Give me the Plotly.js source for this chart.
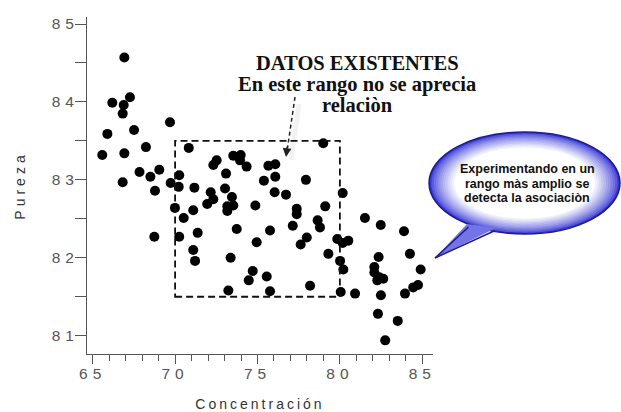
<!DOCTYPE html>
<html><head><meta charset="utf-8">
<script src="https://cdn.plot.ly/plotly-3.0.1.min.js"></script>
<style>
body{margin:0;background:#fff}
#chart{width:621px;height:412px}
.xtitle{letter-spacing:3px}
.ytitle{letter-spacing:4px}
.xtick text,.ytick text{letter-spacing:5px}
</style></head><body><div id="chart"></div>
<script>
// Concentración (x) and Pureza (y) for each observation
const conc = [66.92,67.26,66.19,66.88,66.82,69.69,65.89,67.51,68.23,65.58,
  66.92,67.84,69.04,66.82,68.50,70.25,69.73,70.22,68.78,69.99,
  70.52,68.74,70.25,70.83,73.53,73.98,72.52,72.32,73.94,74.34,
  73.09,71.17,73.03,72.16,73.45,72.32,71.95,73.53,73.17,73.17,
  74.87,71.10,73.74,71.37,74.95,71.10,71.21,73.37,74.71,74.47,
  73.23,78.99,75.66,76.08,76.08,75.39,77.94,76.04,76.73,80.17,
  77.38,77.38,79.11,78.65,78.79,77.14,75.76,77.99,77.62,79.84,
  80.17,80.51,79.30,80.01,80.21,75.56,75.76,78.19,80.05,81.52,
  82.48,83.89,82.35,84.25,82.09,82.09,84.90,82.39,82.63,82.27,
  84.45,84.74,83.95,82.49,80.92,82.31,83.51,82.75];
const pureza = [84.57,84.06,83.99,83.96,83.85,83.74,83.59,83.64,83.42,83.32,
  83.34,83.10,83.13,82.97,83.04,83.06,82.96,82.91,82.86,82.64,
  82.51,82.27,82.27,83.41,83.31,83.32,83.25,83.19,83.25,83.17,
  83.08,82.90,82.89,82.84,82.78,82.75,82.69,82.67,82.66,82.60,
  82.67,82.61,82.37,82.32,82.20,82.10,81.96,82.00,81.83,81.71,
  81.58,83.47,83.18,83.20,83.04,82.99,83.00,82.84,82.81,82.83,
  82.63,82.56,82.66,82.48,82.39,82.41,82.35,82.26,82.17,82.24,
  82.19,82.22,82.05,81.96,81.85,81.76,81.57,81.64,81.56,82.51,
  82.42,82.34,82.01,82.05,81.88,81.81,81.85,81.75,81.73,81.71,
  81.62,81.65,81.54,81.52,81.54,81.28,81.19,80.94];
const xTicks = [65,70,75,80,85];
const yTicks = [81,82,83,84,85];
const boxConc = [70,80];
const boxPureza = [81.5,83.5];
const noteLines = ['DATOS EXISTENTES','En este rango no se aprecia','relaciòn'];
const bubbleLines = ['Experimentando en un','rango màs amplio se','detecta la asociaciòn'];

// plot area in pixels
const L=87, T=17, W=346, H=337;
const px = X => (X-L)/W;
const py = Y => (T+H-Y)/H;

const shapes = [];
// dashed range box (data coordinates)
shapes.push({type:'rect', xref:'x', yref:'y', x0:boxConc[0], x1:boxConc[1], y0:boxPureza[0], y1:boxPureza[1],
  line:{color:'#111', width:1.8, dash:'7px,4px'}, fillcolor:'rgba(0,0,0,0)'});
// arrow shadow + dashed arrow
shapes.push({type:'line', xref:'paper', yref:'paper', x0:px(299), y0:py(104), x1:px(291), y1:py(160),
  line:{color:'rgba(0,0,0,0.05)', width:5}});
shapes.push({type:'line', xref:'paper', yref:'paper', x0:px(295), y0:py(97), x1:px(287.5), y1:py(148),
  line:{color:'#222', width:1.5, dash:'4px,3px'}});
// speech bubble gradient
const cx=524.5, cy=183, rx=95.5, ry=51;
const n=12;
for(let i=0;i<n;i++){
  const t=Math.pow(i/(n-1),0.75);
  const r=Math.round(55+(255-55)*t), g=Math.round(55+(255-55)*t), b=Math.round(215+(255-215)*t);
  const a=rx-i*2.3, c=ry-i*1.4;
  shapes.push({type:'circle', xref:'paper', yref:'paper', x0:px(cx-a), x1:px(cx+a), y0:py(cy+c), y1:py(cy-c),
    line:{width:0}, fillcolor:`rgb(${r},${g},${b})`});
}
shapes.push({type:'circle', xref:'paper', yref:'paper', x0:px(cx-rx), x1:px(cx+rx), y0:py(cy+ry), y1:py(cy-ry),
  line:{color:'#1c1c8a', width:1.5}, fillcolor:'rgba(0,0,0,0)'});
// tail
const pth = (pts)=>pts.map((p,i)=>(i?'L':'M')+px(p[0])+','+py(p[1])).join(' ');
shapes.push({type:'path', xref:'paper', yref:'paper', path:pth([[467,224],[435,258],[496,228]])+' Z',
  line:{width:0}, fillcolor:'#7474e6'});
shapes.push({type:'line', xref:'paper', yref:'paper', x0:px(468.5), y0:py(227), x1:px(435), y1:py(258), line:{color:'#1c1c8a', width:1.5}});
shapes.push({type:'line', xref:'paper', yref:'paper', x0:px(435), y0:py(258), x1:px(494), y1:py(231), line:{color:'#1c1c8a', width:1.5}});

const annotations = [];
const noteY=[63,84,105];
noteLines.forEach((s,i)=>annotations.push({xref:'paper', yref:'paper', x:px(357), y:py(noteY[i]),
  xanchor:'center', yanchor:'middle', showarrow:false, text:'<b>'+s+'</b>',
  font:{family:'Liberation Serif, Times New Roman, serif', size:20.5, color:'#111'}}));
const bubY=[169,183.5,198];
bubbleLines.forEach((s,i)=>annotations.push({xref:'paper', yref:'paper', x:px(527), y:py(bubY[i]),
  xanchor:'center', yanchor:'middle', showarrow:false, text:'<b>'+s+'</b>',
  font:{family:'Liberation Sans, Arial, sans-serif', size:12.5, color:'#111'}}));
// arrowhead
annotations.push({xref:'paper', yref:'paper', x:px(286), y:py(157), ax:1.5, ay:-12, text:'', showarrow:true,
  arrowhead:2, arrowsize:1.1, arrowwidth:1.6, arrowcolor:'#222'});

const tickFont = {family:'Liberation Sans Narrow, Liberation Sans, Arial, sans-serif', size:15.5, color:'#555'};
const titleFont = {family:'Liberation Sans, Arial, sans-serif', size:14, color:'#333'};

const data = [{type:'scatter', mode:'markers', x:conc, y:pureza,
  marker:{color:'#000', size:10}, cliponaxis:false, hoverinfo:'x+y'}];

const layout = {
  width:621, height:412, paper_bgcolor:'#fff', plot_bgcolor:'#fff', showlegend:false,
  margin:{l:L, t:T, r:621-L-W, b:412-T-H, pad:0},
  xaxis:{range:[64.654,85.65], tickvals:xTicks, ticks:'outside', ticklen:9, tickcolor:'#555', tickwidth:1,
    showline:true, linecolor:'#555', linewidth:1, showgrid:false, zeroline:false, fixedrange:true,
    minor:{dtick:1, tick0:65, ticks:'outside', ticklen:6, tickcolor:'#555', showgrid:false},
    ticklabelstandoff:-4, tickfont:tickFont, title:{text:'Concentración', font:titleFont, standoff:19}},
  yaxis:{range:[80.765,85.09], tickvals:yTicks, ticks:'outside', ticklen:11, tickcolor:'#555', tickwidth:1,
    showline:true, linecolor:'#555', linewidth:1, showgrid:false, zeroline:false, fixedrange:true,
    minor:{dtick:0.5, tick0:81, ticks:'outside', ticklen:11, tickcolor:'#555', showgrid:false},
    ticklabelstandoff:-7, tickfont:tickFont, title:{text:'Pureza', font:titleFont, standoff:22}},
  shapes:shapes, annotations:annotations
};
Plotly.newPlot('chart', data, layout, {displayModeBar:false, staticPlot:true});
</script></body></html>
